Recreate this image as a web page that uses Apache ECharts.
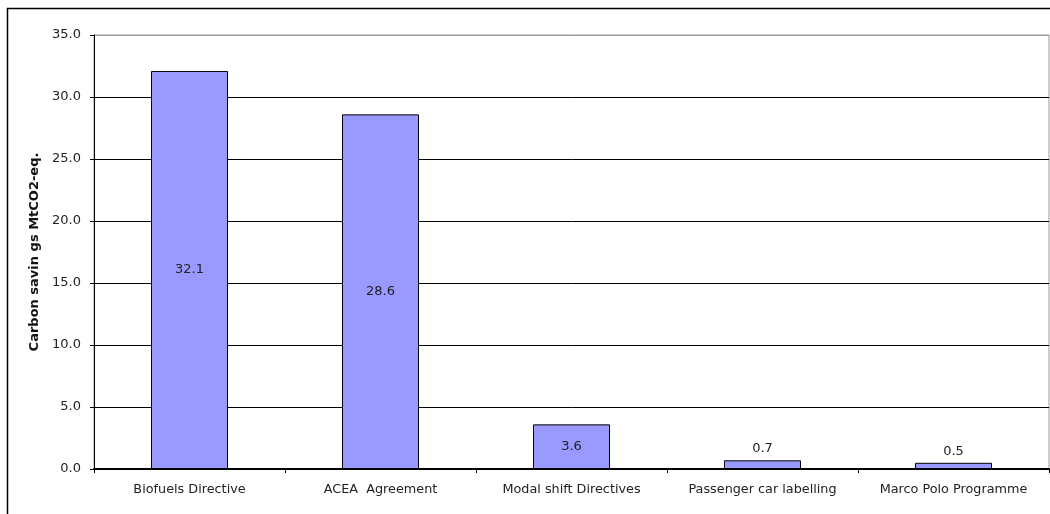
<!DOCTYPE html>
<html><head><meta charset="utf-8">
<script src="https://cdn.jsdelivr.net/npm/echarts@6/dist/echarts.min.js"></script>
<style>html,body{margin:0;padding:0;background:#fff}#c{width:1050px;height:514px}</style>
</head><body><div id="c"></div>
<script>
const categories = ['Biofuels Directive','ACEA  Agreement','Modal shift Directives','Passenger car labelling','Marco Polo Programme'];
const values = [32.1, 28.6, 3.6, 0.7, 0.5];
const labelPositions = ['inside','inside','inside','top','top'];
const yTitle = 'Carbon savin gs MtCO2-eq.';

const chart = echarts.init(document.getElementById('c'));
const FONT = '"DejaVu Sans", Verdana, sans-serif';
chart.setOption({
  animation: false,
  backgroundColor: '#fff',
  graphic: [{type:'rect', shape:{x:7.5,y:8.5,width:1060,height:520}, style:{fill:'none',stroke:'#000',lineWidth:1.5}, z:100}],
  grid: {left:94, right:1, top:35, bottom:45, show:true, borderColor:'#999', borderWidth:1},
  xAxis: {
    type:'category', data: categories,
    axisLine:{lineStyle:{color:'#000',width:2}},
    axisTick:{show:true, interval:0, length:4, lineStyle:{color:'#000'}},
    axisLabel:{color:'#222', fontSize:12.8, fontFamily:FONT, margin:14, interval:0, hideOverlap:false}
  },
  yAxis: {
    type:'value', min:0, max:35, interval:5,
    name: yTitle, nameLocation:'middle', nameGap:53, nameRotate:90,
    nameTextStyle:{color:'#111', fontSize:13, fontWeight:'bold', fontFamily:FONT},
    axisLine:{show:true, lineStyle:{color:'#000',width:1}},
    axisTick:{show:true, length:4, lineStyle:{color:'#000'}},
    axisLabel:{color:'#222', fontSize:13, fontFamily:FONT, margin:13, formatter:v=>v.toFixed(1)},
    splitLine:{show:true, lineStyle:{color:['#000','#000','#000','#000','#000','#000','#000','#999'], width:1}}
  },
  series: [{
    type:'bar', barWidth:77,
    data: values.map((v,i)=>({value:v, label:{position:labelPositions[i]}})),
    itemStyle:{color:'#9999FF', borderColor:'#000', borderWidth:1},
    label:{show:true, color:'#222', fontSize:13, fontFamily:FONT, formatter:p=>p.value.toFixed(1)}
  }]
});
</script></body></html>
